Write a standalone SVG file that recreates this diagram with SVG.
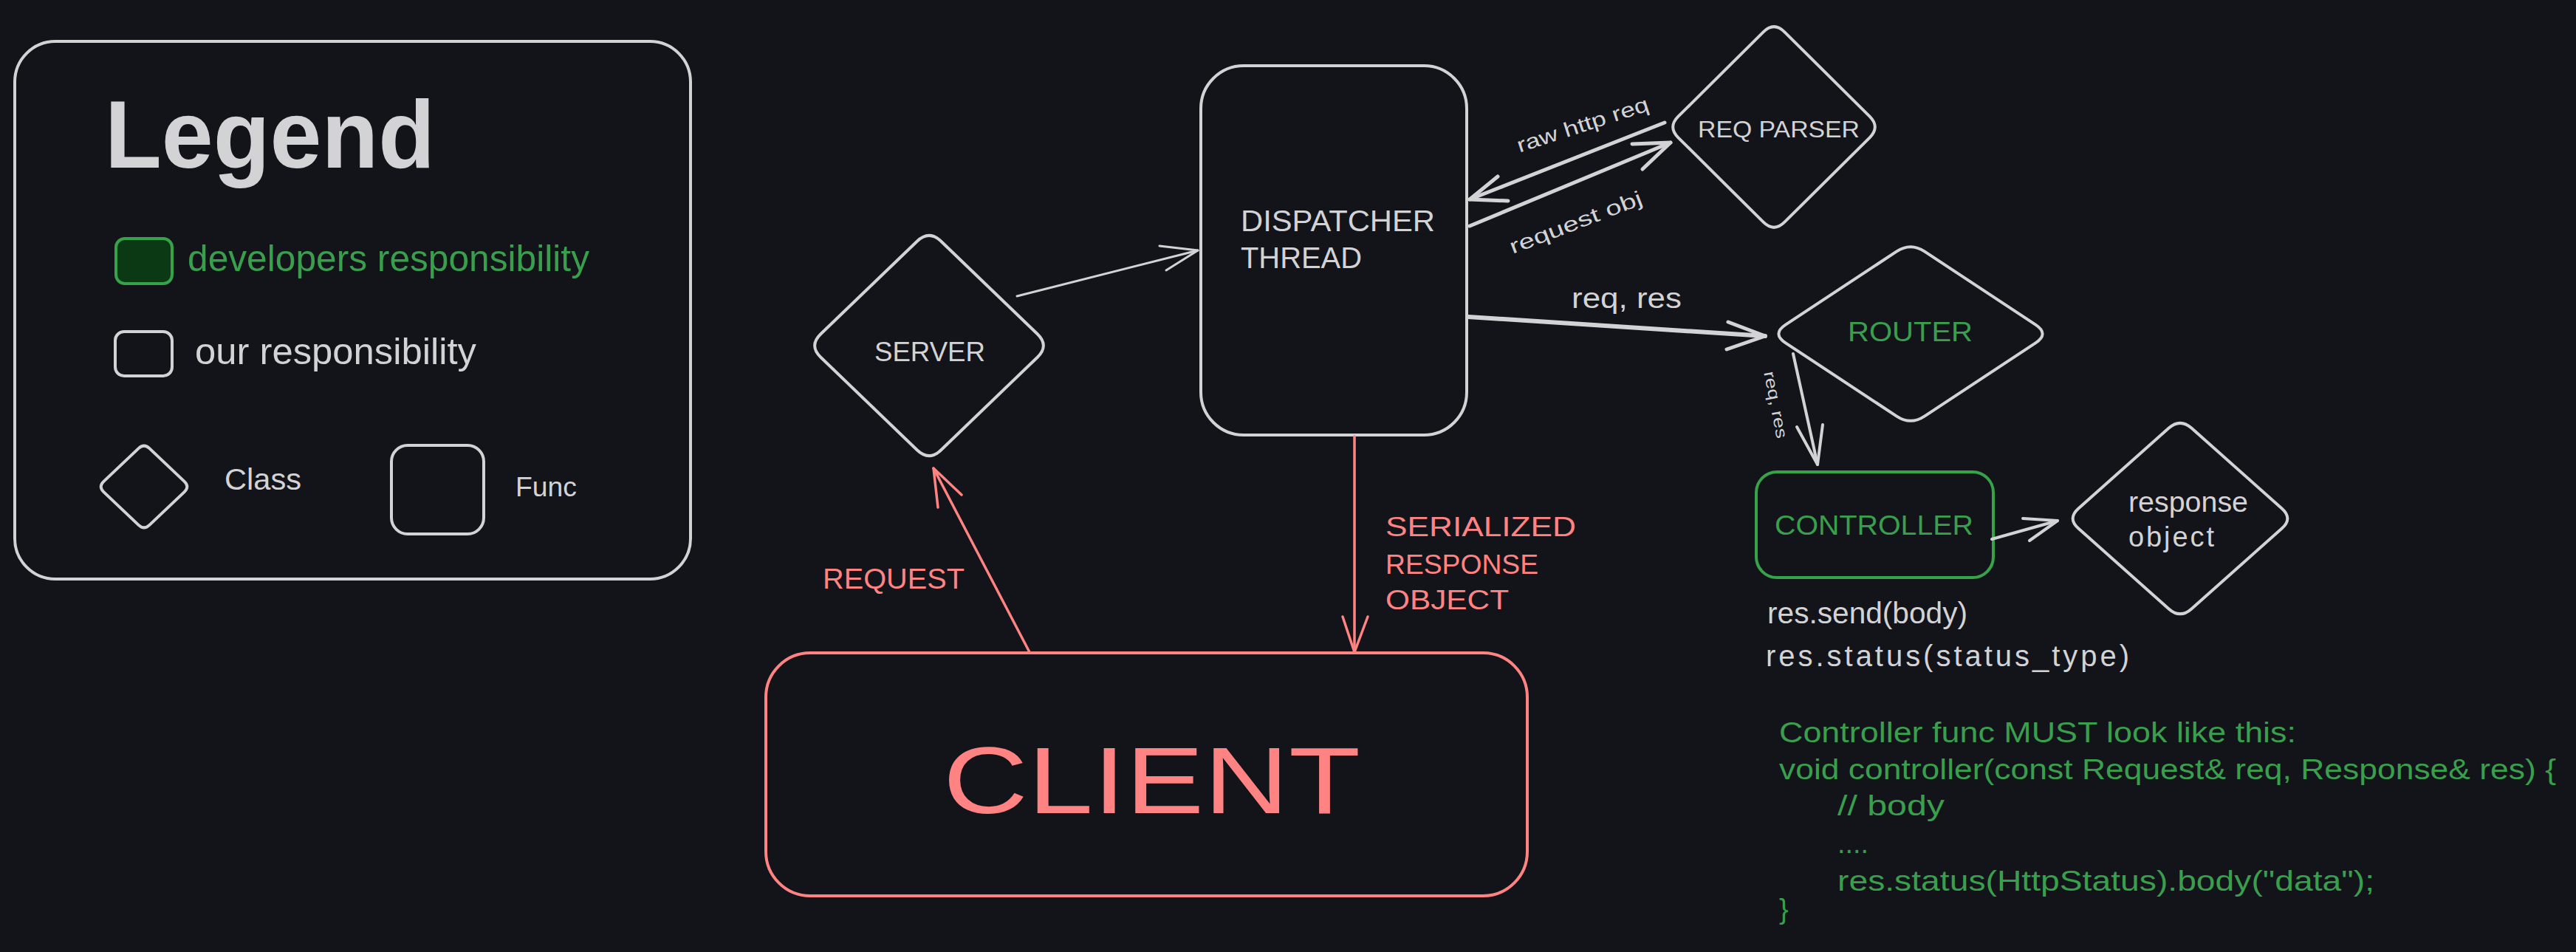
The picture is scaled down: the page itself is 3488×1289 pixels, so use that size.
<svg xmlns="http://www.w3.org/2000/svg" width="3488" height="1289" viewBox="0 0 3488 1289">
<style>
.bg{fill:#121419}
.shape{fill:#121419;stroke:#d3d3d6;stroke-width:4;stroke-linejoin:round}
.red{stroke:#ff8383}
.grn{stroke:#36a24a}
.t{font-family:"Liberation Sans",Arial,sans-serif;fill:#d3d3d6}
.tr{fill:#ff8383}
.tg{fill:#3a9f4d}
.ln{fill:none;stroke:#d3d3d6;stroke-linecap:round;stroke-linejoin:round}
.lr{stroke:#ff8383}
</style>
<rect class="bg" x="0" y="0" width="3488" height="1289"/>

<g id="legend">
  <rect class="shape" x="20" y="56" width="915" height="728" rx="55"/>
  <text class="t" x="142" y="227" font-size="130" font-weight="bold" textLength="447" lengthAdjust="spacingAndGlyphs">Legend</text>
  <rect x="157" y="323" width="76" height="61" rx="12" fill="#0a3914" stroke="#36a24a" stroke-width="4"/>
  <text class="t tg" x="254" y="367" font-size="50" textLength="544" lengthAdjust="spacingAndGlyphs">developers responsibility</text>
  <rect class="shape" x="156" y="449" width="77" height="60" rx="12"/>
  <text class="t" x="264" y="493" font-size="50" textLength="381" lengthAdjust="spacingAndGlyphs">our responsibility</text>
  <path class="shape" d="M202.4 607.1 L249.6 651.9 Q257 659 249.6 666.1 L202.4 710.9 Q195 718 187.6 710.9 L140.4 666.1 Q133 659 140.4 651.9 L187.6 607.1 Q195 600 202.4 607.1Z"/>
  <text class="t" x="304" y="663" font-size="40" textLength="104" lengthAdjust="spacingAndGlyphs">Class</text>
  <rect class="shape" x="530" y="603" width="125" height="120" rx="22"/>
  <text class="t" x="698" y="672" font-size="37" textLength="83" lengthAdjust="spacingAndGlyphs">Func</text>
</g>

<g id="server">
  <path class="shape" d="M1274.3 326.7 L1404.7 452.3 Q1421 468 1404.7 483.7 L1274.3 609.3 Q1258 625 1241.7 609.3 L1111.3 483.7 Q1095 468 1111.3 452.3 L1241.7 326.7 Q1258 311 1274.3 326.7Z"/>
  <text class="t" x="1184" y="489" font-size="37" textLength="150" lengthAdjust="spacingAndGlyphs">SERVER</text>
</g>

<g id="dispatcher">
  <rect class="shape" x="1626" y="89" width="360" height="500" rx="58"/>
  <text class="t" x="1680" y="313" font-size="40" textLength="263" lengthAdjust="spacingAndGlyphs">DISPATCHER</text>
  <text class="t" x="1680" y="363" font-size="40" textLength="164" lengthAdjust="spacingAndGlyphs">THREAD</text>
</g>

<g id="req-parser">
  <path class="shape" d="M2416.4 43.3 L2531.6 157.7 Q2546 172 2531.6 186.3 L2416.4 300.7 Q2402 315 2387.6 300.7 L2272.4 186.3 Q2258 172 2272.4 157.7 L2387.6 43.3 Q2402 29 2416.4 43.3Z"/>
  <text class="t" x="2299" y="186" font-size="32" textLength="219" lengthAdjust="spacingAndGlyphs">REQ PARSER</text>
</g>

<g id="router">
  <path class="shape" d="M2605.8 340.4 L2756.2 439.6 Q2775 452 2756.2 464.4 L2605.8 563.6 Q2587 576 2568.2 563.6 L2417.8 464.4 Q2399 452 2417.8 439.6 L2568.2 340.4 Q2587 328 2605.8 340.4Z"/>
  <text class="t tg" x="2502" y="462" font-size="37" textLength="169" lengthAdjust="spacingAndGlyphs">ROUTER</text>
</g>

<g id="controller">
  <rect class="shape grn" x="2378" y="639" width="321" height="143" rx="28" stroke-width="5"/>
  <text class="t tg" x="2403" y="724" font-size="37" textLength="269" lengthAdjust="spacingAndGlyphs">CONTROLLER</text>
  <text class="t" x="2393" y="844" font-size="40" textLength="271" lengthAdjust="spacingAndGlyphs">res.send(body)</text>
  <text class="t" x="2391" y="902" font-size="40" textLength="492" lengthAdjust="spacing">res.status(status_type)</text>
</g>

<g id="response-object">
  <path class="shape" d="M2967.3 579.6 L3089.7 688.4 Q3105 702 3089.7 715.6 L2967.3 824.4 Q2952 838 2936.7 824.4 L2814.3 715.6 Q2799 702 2814.3 688.4 L2936.7 579.6 Q2952 566 2967.3 579.6Z"/>
  <text class="t" x="2882" y="693" font-size="38" textLength="162" lengthAdjust="spacingAndGlyphs">response</text>
  <text class="t" x="2882" y="740" font-size="38" textLength="116" lengthAdjust="spacing">object</text>
</g>

<g id="client">
  <rect class="shape red" x="1037" y="884" width="1031" height="329" rx="60"/>
  <text class="t tr" x="1277" y="1101" font-size="128" textLength="565" lengthAdjust="spacingAndGlyphs">CLIENT</text>
</g>

<g id="code-note">
  <text class="t tg" x="2409" y="1005" font-size="38" textLength="700" lengthAdjust="spacingAndGlyphs">Controller func MUST look like this:</text>
  <text class="t tg" x="2409" y="1055" font-size="38" textLength="1052" lengthAdjust="spacingAndGlyphs">void controller(const Request&amp; req, Response&amp; res) {</text>
  <text class="t tg" x="2488" y="1104" font-size="38" textLength="145" lengthAdjust="spacingAndGlyphs">// body</text>
  <text class="t tg" x="2488" y="1155" font-size="38" textLength="42" lengthAdjust="spacingAndGlyphs">....</text>
  <text class="t tg" x="2488" y="1206" font-size="38" textLength="727" lengthAdjust="spacingAndGlyphs">res.status(HttpStatus).body("data");</text>
  <text class="t tg" x="2409" y="1244" font-size="38">}</text>
</g>

<g id="connectors">
  <g id="server-to-dispatcher">
    <path class="ln" stroke-width="3" d="M1377 401 L1622 339"/>
    <path class="ln" stroke-width="3" d="M1570 333 L1622 339 L1579 366"/>
  </g>
  <g id="dispatcher-to-parser">
    <path class="ln" stroke-width="5" d="M1990 306 L2262 193"/>
    <path class="ln" stroke-width="5" d="M2210 195 L2262 193 L2224 229"/>
    <text class="t" transform="rotate(-21 2137 310)" x="2137" y="310" font-size="28" text-anchor="middle" textLength="190" lengthAdjust="spacingAndGlyphs">request obj</text>
  </g>
  <g id="parser-to-dispatcher">
    <path class="ln" stroke-width="5" d="M2254 166 L1990 270"/>
    <path class="ln" stroke-width="5" d="M2028 239 L1990 270 L2042 272"/>
    <text class="t" transform="rotate(-18 2146 178)" x="2146" y="178" font-size="28" text-anchor="middle" textLength="186" lengthAdjust="spacingAndGlyphs">raw http req</text>
  </g>
  <g id="dispatcher-to-router">
    <path class="ln" stroke-width="6" d="M1988 429 L2390 455"/>
    <path class="ln" stroke-width="5" d="M2340 436 L2390 455 L2338 473"/>
    <text class="t" x="2128" y="417" font-size="38" textLength="149" lengthAdjust="spacingAndGlyphs">req, res</text>
  </g>
  <g id="router-to-controller">
    <path class="ln" stroke-width="4" d="M2428 479 L2461 629"/>
    <path class="ln" stroke-width="4" d="M2433 578 L2461 629 L2468 575"/>
    <text class="t" transform="translate(2404 548) rotate(79)" x="0" y="7" font-size="22" text-anchor="middle" textLength="92" lengthAdjust="spacingAndGlyphs">req, res</text>
  </g>
  <g id="controller-to-response">
    <path class="ln" stroke-width="4" d="M2697 730 L2786 705"/>
    <path class="ln" stroke-width="4" d="M2739 702 L2786 705 L2748 732"/>
  </g>
  <g id="client-to-server">
    <path class="ln lr" stroke-width="3.5" d="M1394 883 L1264 634"/>
    <path class="ln lr" stroke-width="3.5" d="M1270 687 L1264 634 L1302 670"/>
    <text class="t tr" x="1114" y="797" font-size="38" textLength="192" lengthAdjust="spacingAndGlyphs">REQUEST</text>
  </g>
  <g id="dispatcher-to-client">
    <path class="ln lr" stroke-width="3.5" d="M1834 591 L1834 883"/>
    <path class="ln lr" stroke-width="3.5" d="M1818 835 L1834 883 L1852 835"/>
    <text class="t tr" x="1876" y="726" font-size="37" textLength="258" lengthAdjust="spacingAndGlyphs">SERIALIZED</text>
    <text class="t tr" x="1876" y="777" font-size="37" textLength="207" lengthAdjust="spacingAndGlyphs">RESPONSE</text>
    <text class="t tr" x="1876" y="825" font-size="37" textLength="167" lengthAdjust="spacingAndGlyphs">OBJECT</text>
  </g>
</g>
</svg>
